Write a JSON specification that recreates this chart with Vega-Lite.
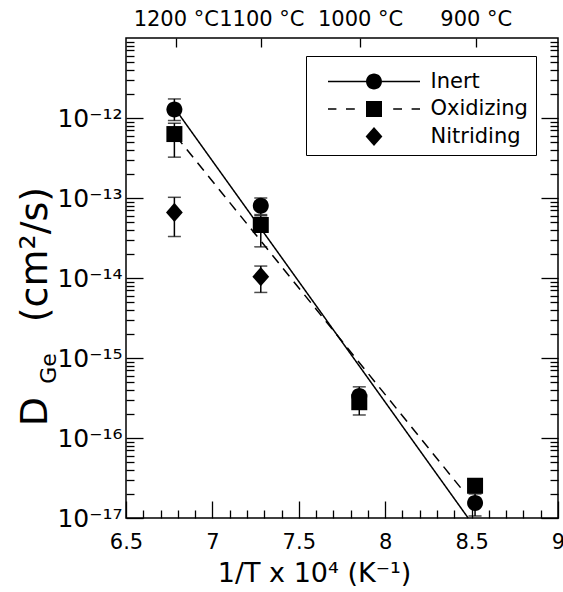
{
  "$schema": "https://vega.github.io/schema/vega-lite/v6.json",
  "width": 432,
  "height": 480,
  "autosize": {"type": "none"},
  "padding": {"left": 126, "top": 38, "right": 5, "bottom": 74},
  "background": "white",
  "datasets": {
    "pts": [
      {"x": 6.78, "D": 1.28e-12, "lo": 9.3e-13, "hi": 1.73e-12, "s": "Inert"},
      {"x": 6.78, "D": 6.3e-13, "lo": 3.24e-13, "hi": 8.6e-13, "s": "Oxidizing"},
      {"x": 6.78, "D": 6.6e-14, "lo": 3.3e-14, "hi": 1.02e-13, "s": "Nitriding"},
      {"x": 7.28, "D": 8.0e-14, "lo": 6.2e-14, "hi": 1.0e-13, "s": "Inert"},
      {"x": 7.28, "D": 4.6e-14, "lo": 2.45e-14, "hi": 6.0e-14, "s": "Oxidizing"},
      {"x": 7.28, "D": 1.04e-14, "lo": 6.6e-15, "hi": 1.41e-14, "s": "Nitriding"},
      {"x": 7.85, "D": 3.35e-16, "lo": 3.0e-16, "hi": 4.36e-16, "s": "Inert"},
      {"x": 7.85, "D": 2.8e-16, "lo": 1.94e-16, "hi": 3.3e-16, "s": "Oxidizing"},
      {"x": 8.52, "D": 1.54e-17, "lo": 1.06e-17, "hi": 2.0e-17, "s": "Inert"},
      {"x": 8.52, "D": 2.53e-17, "lo": 2.2e-17, "hi": 2.9e-17, "s": "Oxidizing"}
    ],
    "fits": [
      {"x": 6.79, "D": 1.25e-12, "s": "Inert"},
      {"x": 8.48, "D": 1.0e-17, "s": "Inert"},
      {"x": 6.79, "D": 5.9e-13, "s": "Oxidizing"},
      {"x": 8.45, "D": 2.2e-17, "s": "Oxidizing"}
    ]
  },
  "config": {
    "view": {"stroke": "black", "strokeWidth": 1.5},
    "axis": {
      "grid": false, "domain": false, "tickColor": "black", "tickWidth": 1.3,
      "labelColor": "black", "titleColor": "black", "labelFont": "DejaVu Sans",
      "titleFont": "DejaVu Sans", "titleFontWeight": "normal", "labelFlush": false,
      "labelOverlap": false, "labelBound": false
    }
  },
  "resolve": {"axis": {"x": "independent", "y": "independent"}},
  "layer": [
    {
      "data": {"name": "pts"},
      "mark": {"type": "rule", "color": "black", "strokeWidth": 1.5},
      "encoding": {
        "x": {"field": "x", "type": "quantitative", "scale": {"domain": [6.5, 9], "nice": false, "zero": false},
          "axis": {"orient": "bottom", "values": [6.5, 7, 7.5, 8, 8.5, 9], "ticks": false, "tickSize": 0,
            "labelFontSize": 21, "labelPadding": 13, "labelExpr": "'' + datum.value",
            "title": "1/T x 10⁴  (K⁻¹)", "titleFontSize": 27, "titleX": 188, "titleY": 55,
            "titleAlign": "center", "titleBaseline": "middle"}},
        "y": {"field": "lo", "type": "quantitative", "scale": {"type": "log", "domain": [1e-17, 1e-11], "nice": false},
          "axis": {"orient": "left", "values": [1e-17, 1e-16, 1e-15, 1e-14, 1e-13, 1e-12], "ticks": false, "tickSize": 0,
            "labelFontSize": 25, "labelPadding": 4,
            "labelExpr": "'10' + ['⁻¹⁷','⁻¹⁶','⁻¹⁵','⁻¹⁴','⁻¹³','⁻¹²'][round(log(datum.value)/LN10)+17]",
            "title": "D", "titleFontSize": 38, "titleAngle": -90, "titleX": -91, "titleY": 373,
            "titleAlign": "center", "titleBaseline": "middle"}},
        "y2": {"field": "hi"}
      }
    },
    {
      "data": {"name": "pts"},
      "mark": {"type": "tick", "orient": "horizontal", "color": "black", "size": 13, "thickness": 1.5},
      "encoding": {
        "x": {"field": "x", "type": "quantitative", "scale": {"domain": [6.5, 9], "nice": false, "zero": false}, "axis": null},
        "y": {"field": "lo", "type": "quantitative", "scale": {"type": "log", "domain": [1e-17, 1e-11], "nice": false}, "axis": null}
      }
    },
    {
      "data": {"name": "pts"},
      "mark": {"type": "tick", "orient": "horizontal", "color": "black", "size": 13, "thickness": 1.5},
      "encoding": {
        "x": {"field": "x", "type": "quantitative", "scale": {"domain": [6.5, 9], "nice": false, "zero": false}, "axis": null},
        "y": {"field": "hi", "type": "quantitative", "scale": {"type": "log", "domain": [1e-17, 1e-11], "nice": false}, "axis": null}
      }
    },
    {
      "data": {"name": "fits"},
      "mark": {"type": "line", "color": "black", "strokeWidth": 1.5},
      "encoding": {
        "x": {"field": "x", "type": "quantitative", "scale": {"domain": [6.5, 9], "nice": false, "zero": false}, "axis": null},
        "y": {"field": "D", "type": "quantitative", "scale": {"type": "log", "domain": [1e-17, 1e-11], "nice": false}, "axis": null},
        "strokeDash": {"field": "s", "type": "nominal", "scale": {"domain": ["Inert", "Oxidizing"], "range": [[1, 0], [10, 7]]}, "legend": null}
      }
    },
    {
      "data": {"name": "pts"},
      "transform": [{"filter": "datum.s == 'Oxidizing'"}],
      "mark": {"type": "point", "filled": true, "color": "black", "opacity": 1, "size": 256, "shape": "M-1,-1H1V1H-1Z"},
      "encoding": {
        "x": {"field": "x", "type": "quantitative", "scale": {"domain": [6.5, 9], "nice": false, "zero": false}, "axis": null},
        "y": {"field": "D", "type": "quantitative", "scale": {"type": "log", "domain": [1e-17, 1e-11], "nice": false}, "axis": null}
      }
    },
    {
      "data": {"name": "pts"},
      "transform": [{"filter": "datum.s == 'Inert'"}],
      "mark": {"type": "point", "filled": true, "color": "black", "opacity": 1, "size": 256, "shape": "M-1,0A1,1 0 1,1 1,0A1,1 0 1,1 -1,0Z"},
      "encoding": {
        "x": {"field": "x", "type": "quantitative", "scale": {"domain": [6.5, 9], "nice": false, "zero": false}, "axis": null},
        "y": {"field": "D", "type": "quantitative", "scale": {"type": "log", "domain": [1e-17, 1e-11], "nice": false}, "axis": null}
      }
    },
    {
      "data": {"name": "pts"},
      "transform": [{"filter": "datum.s == 'Nitriding'"}],
      "mark": {"type": "point", "filled": true, "color": "black", "opacity": 1, "size": 256, "shape": "M0,-1.2L1.05,0L0,1.2L-1.05,0Z"},
      "encoding": {
        "x": {"field": "x", "type": "quantitative", "scale": {"domain": [6.5, 9], "nice": false, "zero": false}, "axis": null},
        "y": {"field": "D", "type": "quantitative", "scale": {"type": "log", "domain": [1e-17, 1e-11], "nice": false}, "axis": null}
      }
    },
    {
      "data": {"name": "pts"},
      "mark": {"type": "point", "filled": true, "color": "black", "opacity": 0, "size": 256},
      "encoding": {
        "x": {"field": "x", "type": "quantitative", "scale": {"domain": [6.5, 9], "nice": false, "zero": false}, "axis": null},
        "y": {"field": "D", "type": "quantitative", "scale": {"type": "log", "domain": [1e-17, 1e-11], "nice": false}, "axis": null},
        "shape": {"field": "s", "type": "nominal",
          "scale": {"domain": ["Inert", "Oxidizing", "Nitriding"],
            "range": [
              "M-5.75,-0.09H-1V0.09H-5.75ZM1,-0.09H5.75V0.09H1ZM-1,0A1,1 0 1,1 1,0A1,1 0 1,1 -1,0Z",
              "M-5.75,-0.09H-4.7V0.09H-5.75ZM-3.5,-0.09H-2.4V0.09H-3.5ZM2.4,-0.09H3.5V0.09H2.4ZM4.7,-0.09H5.75V0.09H4.7ZM-1,-1H1V1H-1Z",
              "M0,-1.2L1.05,0L0,1.2L-1.05,0Z"
            ]},
          "legend": {"title": " ", "titleFontSize": 7, "titlePadding": 0, "orient": "none", "legendX": 180, "legendY": 18,
            "symbolSize": 256, "symbolOffset": 49.5, "labelOffset": 46, "labelFontSize": 21,
            "labelFont": "DejaVu Sans", "labelColor": "black", "strokeColor": "black", "padding": 8,
            "rowPadding": 5.5, "symbolFillColor": "black", "symbolStrokeColor": "black",
            "symbolStrokeWidth": 0, "symbolOpacity": 1,
            "encode": {"symbols": {"opacity": {"value": 1}, "fill": {"value": "black"}},
                       "legend": {"strokeWidth": {"value": 1.5}}}}}
      }
    },
    {
      "data": {"name": "pts"},
      "mark": {"type": "point", "opacity": 0},
      "encoding": {
        "x": {"field": "x", "type": "quantitative", "scale": {"domain": [6.5, 9], "nice": false, "zero": false},
          "axis": {"orient": "bottom", "values": [6.5, 7, 7.5, 8, 8.5, 9], "labels": false, "tickSize": -17, "title": null}},
        "y": {"field": "D", "type": "quantitative", "scale": {"type": "log", "domain": [1e-17, 1e-11], "nice": false},
          "axis": {"orient": "left", "values": [1e-17, 1e-16, 1e-15, 1e-14, 1e-13, 1e-12], "labels": false, "tickSize": -17,
            "title": "(cm²/s)", "titleFontSize": 38, "titleAngle": -90, "titleX": -91, "titleY": 216,
            "titleAlign": "center", "titleBaseline": "middle"}}
      }
    },
    {
      "data": {"name": "pts"},
      "mark": {"type": "point", "opacity": 0},
      "encoding": {
        "x": {"field": "x", "type": "quantitative", "scale": {"domain": [6.5, 9], "nice": false, "zero": false},
          "axis": {"orient": "bottom", "values": [6.6, 6.7, 6.8, 6.9, 7.1, 7.2, 7.3, 7.4, 7.6, 7.7, 7.8, 7.9, 8.1, 8.2, 8.3, 8.4, 8.6, 8.7, 8.8, 8.9], "labels": false, "tickSize": -8, "title": null}},
        "y": {"field": "D", "type": "quantitative", "scale": {"type": "log", "domain": [1e-17, 1e-11], "nice": false},
          "axis": {"orient": "left",
            "values": [2e-17, 3e-17, 4e-17, 5e-17, 6e-17, 7e-17, 8e-17, 9e-17, 2e-16, 3e-16, 4e-16, 5e-16, 6e-16, 7e-16, 8e-16, 9e-16, 2e-15, 3e-15, 4e-15, 5e-15, 6e-15, 7e-15, 8e-15, 9e-15, 2e-14, 3e-14, 4e-14, 5e-14, 6e-14, 7e-14, 8e-14, 9e-14, 2e-13, 3e-13, 4e-13, 5e-13, 6e-13, 7e-13, 8e-13, 9e-13, 2e-12, 3e-12, 4e-12, 5e-12, 6e-12, 7e-12, 8e-12, 9e-12],
            "labels": false, "tickSize": -8,
            "title": "Ge", "titleFontSize": 22, "titleAngle": -90, "titleX": -78, "titleY": 330,
            "titleAlign": "center", "titleBaseline": "middle"}}
      }
    },
    {
      "data": {"name": "pts"},
      "mark": {"type": "point", "opacity": 0},
      "encoding": {
        "x": {"field": "x", "type": "quantitative", "scale": {"domain": [6.5, 9], "nice": false, "zero": false},
          "axis": {"orient": "top", "values": [6.788, 7.283, 7.855, 8.524], "labels": false, "tickSize": -9, "title": null}},
        "y": {"field": "D", "type": "quantitative", "scale": {"type": "log", "domain": [1e-17, 1e-11], "nice": false},
          "axis": {"orient": "right", "values": [1e-17, 1e-16, 1e-15, 1e-14, 1e-13, 1e-12], "labels": false, "tickSize": -17, "title": null}}
      }
    },
    {
      "data": {"name": "pts"},
      "mark": {"type": "point", "opacity": 0},
      "encoding": {
        "x": {"field": "x", "type": "quantitative", "scale": {"domain": [6.5, 9], "nice": false, "zero": false},
          "axis": {"orient": "top", "values": [6.788, 7.283, 7.855, 8.524], "ticks": false, "tickSize": 0,
            "labelFontSize": 21, "labelPadding": 9, "labelDx": 13,
            "labelExpr": "datum.value < 7 ? '1200 °C' : datum.value < 7.5 ? '1100 °C' : datum.value < 8 ? '1000 °C' : '900 °C'",
            "title": null}},
        "y": {"field": "D", "type": "quantitative", "scale": {"type": "log", "domain": [1e-17, 1e-11], "nice": false},
          "axis": {"orient": "right",
            "values": [2e-17, 3e-17, 4e-17, 5e-17, 6e-17, 7e-17, 8e-17, 9e-17, 2e-16, 3e-16, 4e-16, 5e-16, 6e-16, 7e-16, 8e-16, 9e-16, 2e-15, 3e-15, 4e-15, 5e-15, 6e-15, 7e-15, 8e-15, 9e-15, 2e-14, 3e-14, 4e-14, 5e-14, 6e-14, 7e-14, 8e-14, 9e-14, 2e-13, 3e-13, 4e-13, 5e-13, 6e-13, 7e-13, 8e-13, 9e-13, 2e-12, 3e-12, 4e-12, 5e-12, 6e-12, 7e-12, 8e-12, 9e-12],
            "labels": false, "tickSize": -8, "title": null}}
      }
    }
  ]
}
